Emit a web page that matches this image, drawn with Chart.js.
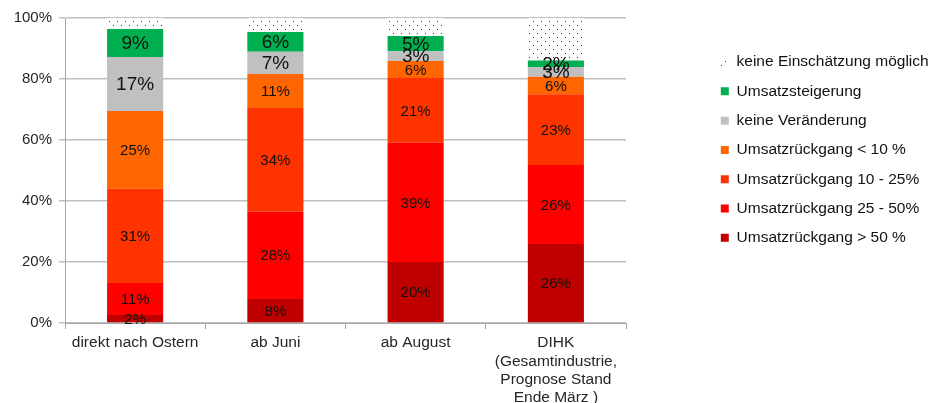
<!DOCTYPE html>
<html>
<head>
<meta charset="utf-8">
<script src="https://cdn.jsdelivr.net/npm/chart.js@4/dist/chart.umd.min.js"></script>
<style>
  html, body { margin: 0; padding: 0; background: #ffffff; }
  #wrap { width: 941px; height: 403px; }
</style>
</head>
<body>
<div id="wrap"><canvas id="c" width="941" height="403"></canvas></div>
<script>
// ---------- data ----------
const categories = [
  "direkt nach Ostern",
  "ab Juni",
  "ab August",
  ["DIHK", "(Gesamtindustrie,", "Prognose Stand", "Ende März )"]
];
const seriesNames = [
  "Umsatzrückgang > 50 %",
  "Umsatzrückgang 25 - 50%",
  "Umsatzrückgang 10 - 25%",
  "Umsatzrückgang < 10 %",
  "keine Veränderung",
  "Umsatzsteigerung",
  "keine Einschätzung möglich"
];
// segment heights (percent)
const rueckgangUeber50 = [2.6, 7.9, 20.0, 25.9];
const rueckgang25bis50 = [10.5, 28.6, 39.1, 25.9];
const rueckgang10bis25 = [30.9, 34.0, 21.2, 23.2];
const rueckgangUnter10 = [25.5, 11.1, 5.6, 5.7];
const keineVeraenderung = [17.7, 7.3, 3.2, 3.2];
const umsatzsteigerung = [9.2, 6.5, 5.0, 2.2];
const keineEinschaetzung = [3.6, 4.6, 5.9, 13.9];
// printed value labels
const lblUeber50 = ["2%", "8%", "20%", "26%"];
const lbl25bis50 = ["11%", "28%", "39%", "26%"];
const lbl10bis25 = ["31%", "34%", "21%", "23%"];
const lblUnter10 = ["25%", "11%", "6%", "6%"];
const lblKeineVer = ["17%", "7%", "3%", "3%"];
const lblSteigerung = ["9%", "6%", "5%", "2%"];
const yTicks = [0, 20, 40, 60, 80, 100];

// ---------- dotted pattern ----------
function dotPattern() {
  const pc = document.createElement('canvas');
  pc.width = 8; pc.height = 8;
  const p = pc.getContext('2d');
  p.fillStyle = '#ffffff';
  p.fillRect(0, 0, 8, 8);
  p.fillStyle = '#3a3a3a';
  p.fillRect(1, 1, 1, 1);
  p.fillRect(5, 5, 1, 1);
  return document.getElementById('c').getContext('2d').createPattern(pc, 'repeat');
}

const FONT = "'Liberation Sans', Arial, sans-serif";

const valueLabels = {
  id: 'valueLabels',
  afterDatasetsDraw(chart) {
    const ctx = chart.ctx;
    ctx.save();
    ctx.textAlign = 'center';
    ctx.textBaseline = 'middle';
    ctx.fillStyle = '#111111';
    chart.data.datasets.forEach((ds, i) => {
      if (!ds.valueLabels) return;
      const meta = chart.getDatasetMeta(i);
      ctx.font = ds.labelSize + 'px ' + FONT;
      meta.data.forEach((el, j) => {
        const p = el.getProps(['x', 'y', 'base'], true);
        ctx.fillText(ds.valueLabels[j], p.x, (p.y + p.base) / 2 + 1);
      });
    });
    ctx.restore();
  }
};

const legendPlace = {
  id: 'legendPlace',
  beforeInit(chart) {
    const lg = chart.legend;
    const fit = lg.fit;
    lg.fit = function () { fit.call(this); this.width = 315; };
  },
  afterLayout(chart) {
    const lg = chart.legend;
    lg.left = 707;
    lg.right = 941;
    lg.top = 40.5;
  }
};

const colors = ['#C00000', '#FF0000', '#FF3300', '#FF6600', '#C0C0C0', '#00B050'];
const values = [rueckgangUeber50, rueckgang25bis50, rueckgang10bis25, rueckgangUnter10, keineVeraenderung, umsatzsteigerung];
const labels = [lblUeber50, lbl25bis50, lbl10bis25, lblUnter10, lblKeineVer, lblSteigerung];
const sizes = [15, 15, 15, 15, 19, 19];

const datasets = values.map((v, i) => ({
  label: seriesNames[i],
  data: v,
  backgroundColor: colors[i],
  borderWidth: 0,
  valueLabels: labels[i],
  labelSize: sizes[i]
}));
datasets.push({
  label: seriesNames[6],
  data: keineEinschaetzung,
  backgroundColor: dotPattern(),
  borderWidth: 0
});

new Chart(document.getElementById('c'), {
  type: 'bar',
  data: { labels: categories, datasets: datasets },
  options: {
    responsive: false,
    animation: false,
    events: [],
    datasets: { bar: { barPercentage: 0.4, categoryPercentage: 1.0 } },
    layout: { padding: { top: 18, left: 0, right: 0, bottom: 0 } },
    scales: {
      x: {
        stacked: true,
        offset: true,
        grid: { display: true, drawOnChartArea: false, offset: true, drawTicks: true, tickLength: 6, color: '#A6A6A6', lineWidth: 1 },
        border: { display: true, color: '#A6A6A6', width: 1 },
        ticks: { color: '#262626', font: { family: FONT, size: 15.5, lineHeight: 1.18 }, padding: 5, maxRotation: 0, autoSkip: false },
        afterFit(s) { s.height = 80; }
      },
      y: {
        stacked: true,
        min: 0, max: 100,
        afterBuildTicks(s) { s.ticks = yTicks.map(v => ({ value: v })); },
        grid: { color: '#C0C0C0', lineWidth: 1.5, drawTicks: true, tickLength: 6 },
        border: { display: true, color: '#A6A6A6', width: 1 },
        ticks: { color: '#262626', font: { family: FONT, size: 15 }, padding: 7, callback: v => v + '%' },
        afterFit(s) { s.width = 65; }
      }
    },
    plugins: {
      legend: {
        position: 'right',
        align: 'start',
        reverse: true,
        labels: {
          boxWidth: 8, boxHeight: 8,
          padding: 13.8,
          color: '#111111',
          font: { family: FONT, size: 15.5 }
        }
      },
      tooltip: { enabled: false }
    }
  },
  plugins: [valueLabels, legendPlace]
});
</script>
</body>
</html>
